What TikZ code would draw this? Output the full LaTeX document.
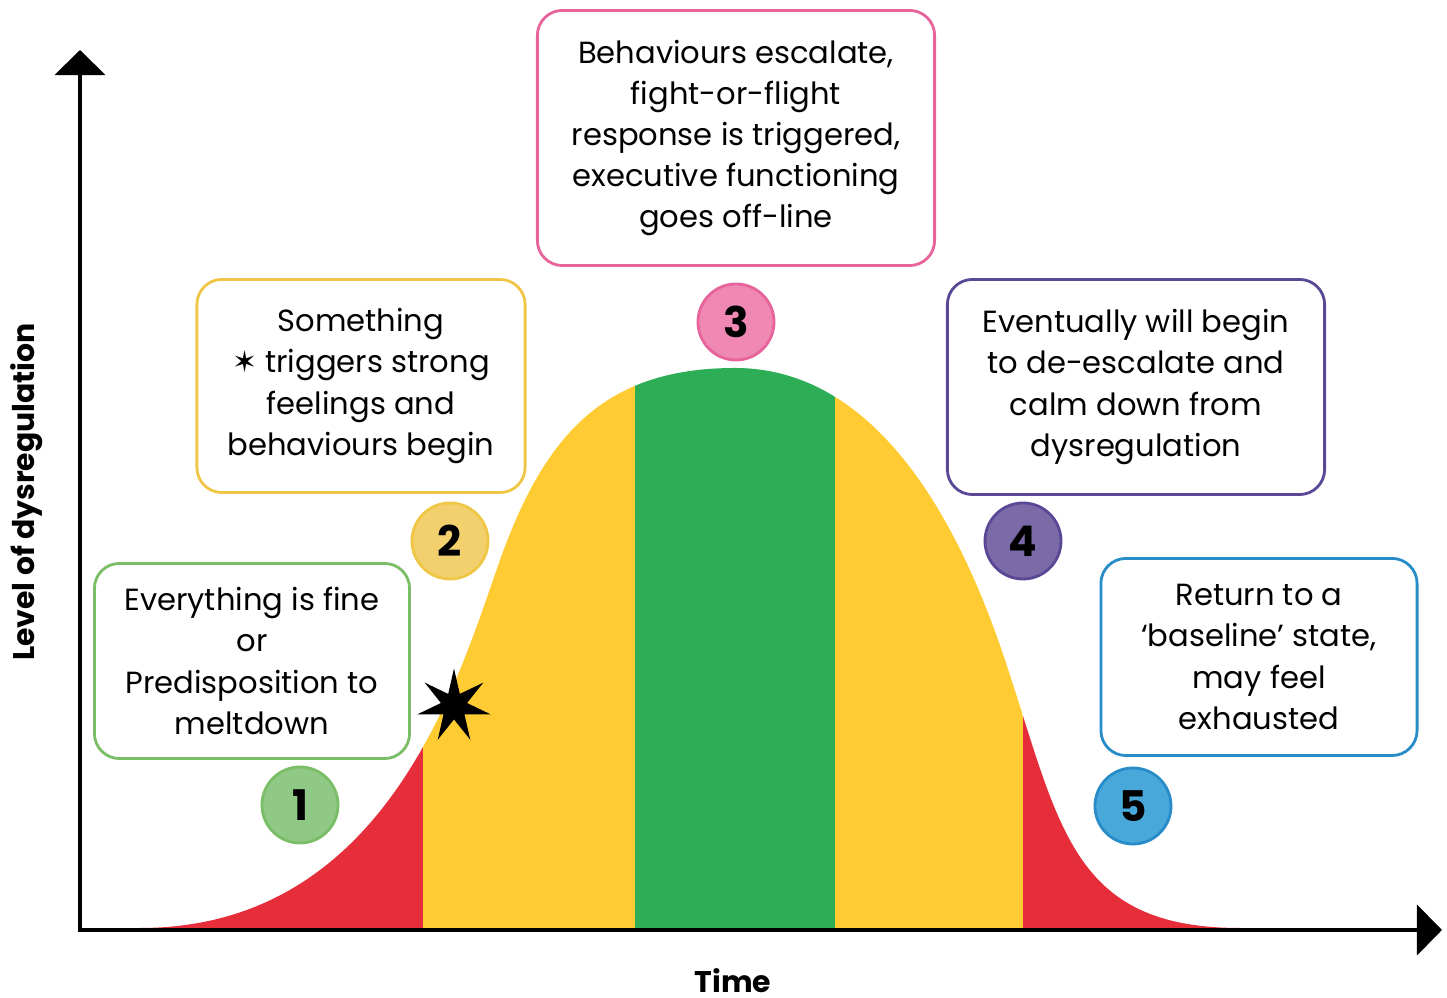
\documentclass[tikz,border=0pt]{standalone}
\usepackage{fontspec}
\setmainfont{Poppins}
\newfontfamily\symfont{DejaVu Sans}
\usetikzlibrary{
    arrows.meta,
    shapes.geometric,
    positioning
}

\definecolor{bandred}{RGB}{230,46,59}
\definecolor{bandyellow}{RGB}{254,204,50}
\definecolor{bandgreen}{RGB}{44,173,86}
\definecolor{greenline}{RGB}{122,190,104}
\definecolor{greenfill}{RGB}{144,200,134}
\definecolor{yellowline}{RGB}{240,198,70}
\definecolor{yellowfill}{RGB}{243,208,110}
\definecolor{pinkline}{RGB}{230,100,155}
\definecolor{pinkfill}{RGB}{240,136,180}
\definecolor{purpleline}{RGB}{90,72,150}
\definecolor{purplefill}{RGB}{122,106,168}
\definecolor{blueline}{RGB}{40,140,200}
\definecolor{bluefill}{RGB}{72,168,218}

\begin{document}
\begin{tikzpicture}[x=0.01cm, y=-0.01cm,
    infobox/.style={draw=#1, line width=0.8pt, rounded corners=0.25cm, align=center,
        inner sep=0pt, font=\fontsize{8.7}{11.7}\selectfont},
    numdot/.style={circle, draw=#1line, fill=#1fill, line width=0.8pt, minimum size=0.76cm,
        inner sep=0pt, font=\fontsize{12}{12}\selectfont\bfseries},
    axis/.style={line width=1.2pt, line cap=rect, -{Triangle[width=0.5cm, length=0.25cm]}},
    axislabel/.style={font=\fontsize{8.5}{10}\selectfont\bfseries}]

    \useasboundingbox (0,0) rectangle (1447,998);

    % bell curve, coloured in bands
    \begin{scope}
        \clip (140,928) .. controls (390,928) and (460,672) .. (500,560)
            .. controls (545,434) and (605,368) .. (735,368)
            .. controls (885,368) and (965,540) .. (1005,660)
            .. controls (1060,825) and (1070,928) .. (1240,928) -- cycle;
        \fill[bandred] (130,360) rectangle (423,935);
        \fill[bandyellow] (423,360) rectangle (635,935);
        \fill[bandgreen] (635,360) rectangle (835,935);
        \fill[bandyellow] (835,360) rectangle (1023,935);
        \fill[bandred] (1023,360) rectangle (1250,935);
    \end{scope}

    % axes
    \coordinate (origin) at (80,930);
    \coordinate (ytop) at (80,50);
    \coordinate (xend) at (1442,930);
    \draw[axis] (origin) -- (ytop);
    \draw[axis] (origin) -- (xend);
    \node[axislabel, rotate=90] (ylabel) at (27,492) {Level of dysregulation};
    \node[axislabel] (xlabel) at (733,981) {Time};

    % trigger
    \node[star, star points=7, star point ratio=2.8, fill=black, inner sep=0pt,
        minimum size=0.75cm] (trigger) at (454,706) {};

    % the five stages
    \node[infobox=greenline, minimum width=3.15cm, minimum height=1.95cm] (fine) at (252,661)
        {Everything is fine\\or\\Predisposition to\\meltdown};
    \node[infobox=yellowline, minimum width=3.28cm, minimum height=2.13cm] (rise) at (361,386)
        {Something\\{\symfont\fontsize{8.5}{8.5}\selectfont ✶} triggers strong\\feelings and\\behaviours begin};
    \node[infobox=pinkline, minimum width=3.97cm, minimum height=2.55cm] (crisis) at (736,138)
        {Behaviours escalate,\\fight-or-flight\\response is triggered,\\executive functioning\\goes off-line};
    \node[infobox=purpleline, minimum width=3.77cm, minimum height=2.15cm] (calm) at (1136,387)
        {Eventually will begin\\to de-escalate and\\calm down from\\dysregulation};
    \node[infobox=blueline, minimum width=3.16cm, minimum height=1.97cm] (rest) at (1259,657)
        {Return to a\\`baseline' state,\\may feel\\exhausted};

    \foreach \n/\x/\y/\c in {1/300/805/green, 2/450/541/yellow, 3/736/322/pink,
                             4/1023/541/purple, 5/1133/806/blue} {
        \node[numdot=\c] (stage\n) at (\x,\y) {\n};
    }
\end{tikzpicture}
\end{document}
